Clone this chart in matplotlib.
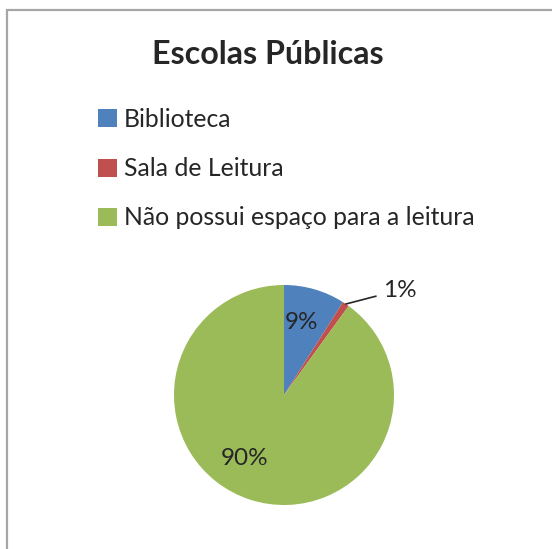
import matplotlib
matplotlib.use("Agg")
import matplotlib.pyplot as plt
import numpy as np
from matplotlib.patches import Rectangle

plt.rcParams['font.family'] = ['Lato', 'DejaVu Sans']

categories = ["Biblioteca", "Sala de Leitura", "Não possui espaço para a leitura"]
values = [9, 1, 90]
colors = ["#4F81BD", "#C0504D", "#9BBB59"]
txt = "#262626"

W, H = 552, 549
fig = plt.figure(figsize=(W / 100, H / 100), dpi=100)

# chart frame (clipped on right / bottom like the screenshot)
fig.patches.append(Rectangle((7 / W, -0.1), 2.0, (H - 10) / H + 0.1, transform=fig.transFigure,
                             fill=False, ec="#a6a6a6", lw=1.6))

fig.text(268 / W, 1 - 64 / H, "Escolas Públicas", ha="center", va="baseline",
         fontsize=23.2, fontweight="bold", color=txt)

# pie: center (284, 395), radius 110 px
ax = fig.add_axes([174 / W, (H - 505) / H, 220 / W, 220 / H])
wedges, _ = ax.pie(values, colors=colors, startangle=90, counterclock=False,
                   wedgeprops=dict(linewidth=0))
ax.set_xlim(-1, 1); ax.set_ylim(-1, 1); ax.set_aspect("equal")

# percentage labels
offsets = [3, 0, -14]  # degrees nudge vs. mid-angle (Excel-like placement)
for w, v, off in zip(wedges, values, offsets):
    mid = np.deg2rad((w.theta1 + w.theta2) / 2 + off)
    if v < 5:
        x, y = np.cos(mid), np.sin(mid)
        ax.annotate(f"{v}%", xy=(x, y), xytext=(37, 14), textcoords="offset pixels",
                    ha="left", va="center", fontsize=17.5, color=txt,
                    arrowprops=dict(arrowstyle="-", color=txt, lw=1.2, shrinkA=3, shrinkB=0),
                    annotation_clip=False)
    else:
        r = 0.68
        ax.text(r * np.cos(mid), r * np.sin(mid), f"{v}%", ha="center", va="center",
                fontsize=17.5, color=txt)

fig.legend(wedges, categories, loc="upper left", bbox_to_anchor=(98 / W, 1 - 108 / H),
           frameon=False, fontsize=17.8, handlelength=0.75, handleheight=0.75,
           handletextpad=0.3, labelspacing=1.06, borderpad=0, borderaxespad=0,
           labelcolor=txt)

fig.savefig("out.png", dpi=100, facecolor="white")
